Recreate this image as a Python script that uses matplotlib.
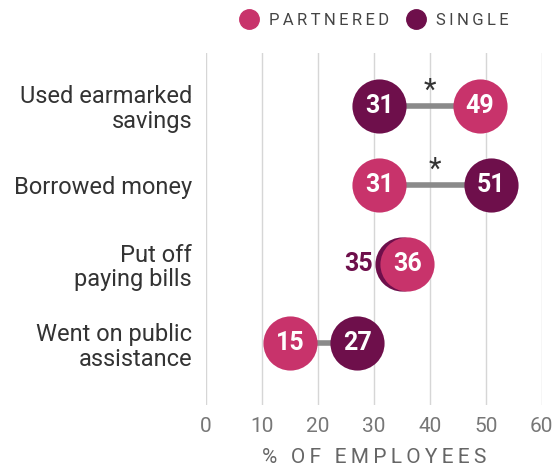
import matplotlib.pyplot as plt
from matplotlib.lines import Line2D

plt.rcParams['font.family'] = ['Roboto', 'DejaVu Sans']

categories = ['Used earmarked\nsavings', 'Borrowed money', 'Put off\npaying bills', 'Went on public\nassistance']
partnered = [49, 31, 36, 15]
single = [31, 51, 35, 27]
significant = [True, True, False, False]
xticks = [0, 10, 20, 30, 40, 50, 60]

pink = '#C8336B'
plum = '#6E0F4B'


def spaced(s):
    # poor man's letter spacing with thin spaces
    return '\u2009'.join(s)


fig = plt.figure(figsize=(5.53, 4.72), dpi=100)
ax = fig.add_axes([0.3725, 0.142, 0.607, 0.746])

ys = list(range(len(categories)))[::-1]
for y, p, s, sig in zip(ys, partnered, single, significant):
    ax.plot([min(p, s), max(p, s)], [y, y], color='#8a8a8a', lw=4, zorder=1, solid_capstyle='butt')
    ax.scatter([s], [y], s=1520, color=plum, zorder=2, linewidths=0)
    ax.scatter([p], [y], s=1520, color=pink, zorder=3, linewidths=0)
    if abs(p - s) < 5:
        lo, hi = (s, p) if s < p else (p, s)
        lo_col = plum if s < p else pink
        ax.text(hi, y, str(hi), color='white', fontsize=18, fontweight='bold',
                ha='center', va='center', zorder=4)
        ax.annotate(str(lo), (lo, y), xytext=(-21, 0), textcoords='offset points',
                    color=lo_col, fontsize=18, fontweight='bold', ha='right', va='center')
    else:
        for v in (p, s):
            ax.text(v, y, str(v), color='white', fontsize=18, fontweight='bold',
                    ha='center', va='center', zorder=4)
    if sig:
        ax.annotate('*', ((p + s) / 2, y), xytext=(0, 1), textcoords='offset points',
                    color='#333333', fontsize=21, ha='center', va='bottom')

ax.set_xlim(0, 60)
ax.set_ylim(-0.78, 3.67)
ax.set_xticks(xticks)
ax.set_xticklabels([str(t) for t in xticks], color='#777777', fontsize=15)
ax.set_yticks(ys)
ax.set_yticklabels(categories, fontsize=17, color='#333333', linespacing=1.1)
for lab in ax.get_yticklabels():
    lab.set_multialignment('right')
ax.tick_params(length=0, axis='x', pad=9)
ax.tick_params(length=0, axis='y', pad=10)
ax.grid(axis='x', color='#d6d6d6', lw=1)
ax.set_axisbelow(True)
for sp in ax.spines.values():
    sp.set_visible(False)
ax.set_xlabel(spaced('% OF EMPLOYEES'), fontsize=15, color='#666666', labelpad=8)

handles = [Line2D([], [], marker='o', ls='', color=pink, markersize=14),
           Line2D([], [], marker='o', ls='', color=plum, markersize=14)]
fig.legend(handles, [spaced('PARTNERED'), spaced('SINGLE')], loc='center',
           bbox_to_anchor=(0.67, 0.957), ncol=2, frameon=False, fontsize=12,
           handletextpad=0.2, columnspacing=0.6, labelcolor='#444444')

fig.savefig('out.png', dpi=100)
